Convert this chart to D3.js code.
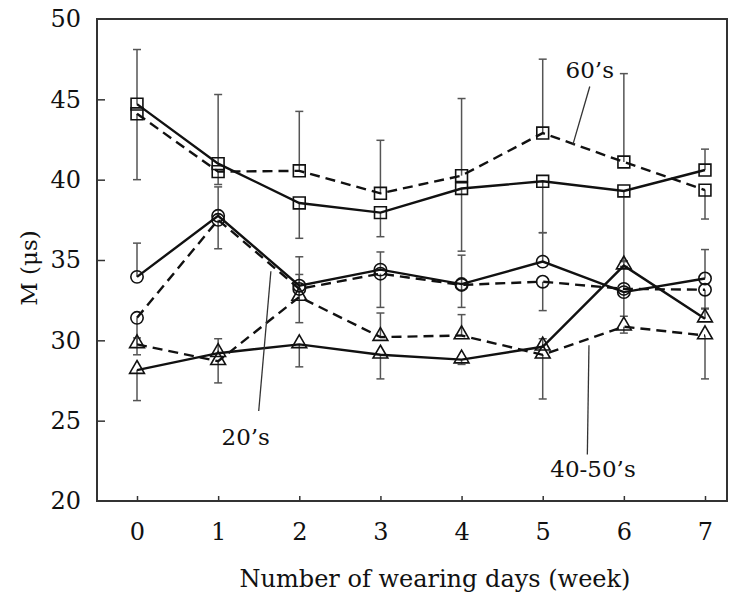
<!DOCTYPE html>
<html>
<head>
<meta charset="utf-8">
<script src="https://cdn.jsdelivr.net/npm/d3@7"></script>
<style>
  body { margin: 0; background: #fff; }
  svg text { font-family: "DejaVu Serif", serif; fill: #111; }
</style>
</head>
<body>
<div class="chart"></div>
<script>
const weeks = [0, 1, 2, 3, 4, 5, 6, 7]
const yTicks = [20, 25, 30, 35, 40, 45, 50]

// mean values, solid and dashed line for each age group
const m20Solid = [33.95, 37.75, 33.4, 34.4, 33.5, 34.9, 33.0, 33.85]
const m20Dashed = [31.4, 37.5, 33.2, 34.15, 33.45, 33.65, 33.2, 33.15]
const m4050Solid = [28.15, 29.2, 29.75, 29.1, 28.8, 29.6, 34.65, 31.35]
const m4050Dashed = [29.75, 28.7, 32.7, 30.2, 30.3, 29.1, 30.85, 30.3]
const m60Solid = [44.7, 41.0, 38.55, 37.95, 39.45, 39.9, 39.3, 40.6]
const m60Dashed = [44.1, 40.5, 40.55, 39.15, 40.25, 42.9, 41.1, 39.35]

// error bar lengths
const sd20Solid = [2.1, 1.8, 1.8, 1.1, 1.8, 1.8, 1.5, 1.8]
const sd20Dashed = [2.3, 1.8, 2.1, 2.1, 1.4, 1.8, 1.4, 1.15]
const sd4050Solid = [1.9, 0.9, 1.4, 1.5, 0.3, 0.5, 0.3, 0.6]
const sd4050Dashed = [0.4, 1.35, 1.4, 1.5, 1.3, 2.75, 0.4, 2.7]
const sd60Solid = [3.4, 4.3, 2.2, 1.5, 3.9, 3.2, 4.4, 1.3]
const sd60Dashed = [4.1, 0.8, 3.7, 3.3, 4.8, 4.6, 5.5, 1.8]

const groups = [
	{ name: "20's", marker: "circle", solid: m20Solid, dashed: m20Dashed, sdSolid: sd20Solid, sdDashed: sd20Dashed },
	{ name: "40-50's", marker: "triangle", solid: m4050Solid, dashed: m4050Dashed, sdSolid: sd4050Solid, sdDashed: sd4050Dashed },
	{ name: "60's", marker: "square", solid: m60Solid, dashed: m60Dashed, sdSolid: sd60Solid, sdDashed: sd60Dashed }
]

// annotation labels with leader lines (data units)
const labels = [
	{ text: "60\u2019s", x: 5.58, y: 46.8, line: [[5.58, 45.8], [5.37, 42.15]] },
	{ text: "20\u2019s", x: 1.34, y: 24.0, line: [[1.65, 34.3], [1.5, 25.6]] },
	{ text: "40-50\u2019s", x: 5.62, y: 22.0, line: [[5.57, 29.7], [5.55, 22.9]] }
]

const width = 736
const height = 599
const plotLeft = 97, plotRight = 727, plotTop = 19, plotBottom = 501

const svg = d3.select('.chart').append("svg")
	.attr("width", width)
	.attr("height", height)

const xScale = d3.scaleLinear()
	.domain([0, 7])
	.range([137, 705])

const yScale = d3.scaleLinear()
	.domain([20, 50])
	.range([plotBottom, plotTop])

// frame
svg.append("rect")
	.attr("x", plotLeft)
	.attr("y", plotTop)
	.attr("width", plotRight - plotLeft)
	.attr("height", plotBottom - plotTop)
	.attr("fill", "none")
	.attr("stroke", "#333")
	.attr("stroke-width", 2)

// ticks point inward
const yAxis = d3.axisLeft(yScale).tickValues(yTicks).tickFormat(d3.format("d")).tickSize(-8).tickPadding(12)
const xAxis = d3.axisBottom(xScale).tickValues(weeks).tickFormat(d3.format("d")).tickSize(-5).tickPadding(22)

const yG = svg.append("g")
	.attr("transform", "translate(" + plotLeft + ",0)")
	.call(yAxis)
const xG = svg.append("g")
	.attr("transform", "translate(0," + plotBottom + ")")
	.call(xAxis)

for (const g of [xG, yG]) {
	g.select(".domain").remove()
	g.selectAll(".tick line").attr("stroke", "#333").attr("stroke-width", 1.5)
	g.selectAll(".tick text")
		.style("font-family", "DejaVu Serif")
		.attr("font-size", 24)
		.attr("fill", "#111")
}
yG.selectAll(".tick line").filter(d => d === 20 || d === 50).remove()
yG.selectAll(".tick text").attr("dx", -4)

svg.append("text")
	.attr("x", 435)
	.attr("y", 587)
	.attr("text-anchor", "middle")
	.attr("font-size", 24)
	.text("Number of wearing days (week)")

svg.append("text")
	.attr("transform", "translate(37,268) rotate(-90)")
	.attr("text-anchor", "middle")
	.attr("font-size", 23)
	.text("M (\u03bcs)")

// error bars: the higher of each pair goes up, the lower goes down
const bars = []
groups.forEach(g => {
	weeks.forEach((w, i) => {
		const up = g.solid[i] >= g.dashed[i]
		bars.push({ x: w, y: g.solid[i], end: g.solid[i] + (up ? 1 : -1) * g.sdSolid[i] })
		bars.push({ x: w, y: g.dashed[i], end: g.dashed[i] + (up ? -1 : 1) * g.sdDashed[i] })
	})
})

const errG = svg.append("g")
	.attr("stroke", "#555")
	.attr("stroke-width", 1.5)

errG.selectAll("line.stem")
	.data(bars)
	.enter().append("line")
	.attr("class", "stem")
	.attr("x1", d => xScale(d.x))
	.attr("x2", d => xScale(d.x))
	.attr("y1", d => yScale(d.y))
	.attr("y2", d => yScale(d.end))

errG.selectAll("line.cap")
	.data(bars)
	.enter().append("line")
	.attr("class", "cap")
	.attr("x1", d => xScale(d.x) - 4)
	.attr("x2", d => xScale(d.x) + 4)
	.attr("y1", d => yScale(d.end))
	.attr("y2", d => yScale(d.end))

const line = d3.line()
	.x((d, i) => xScale(weeks[i]))
	.y(d => yScale(d))

groups.forEach(g => {
	svg.append("path")
		.attr("d", line(g.dashed))
		.attr("fill", "none")
		.attr("stroke", "#111")
		.attr("stroke-width", 2.4)
		.attr("stroke-dasharray", "10,6")

	svg.append("path")
		.attr("d", line(g.solid))
		.attr("fill", "none")
		.attr("stroke", "#111")
		.attr("stroke-width", 2.4)
})

const symbols = {
	circle: d3.symbol().type(d3.symbolCircle).size(120),
	square: d3.symbol().type(d3.symbolSquare).size(140),
	triangle: d3.symbol().type(d3.symbolTriangle).size(95)
}

groups.forEach(g => {
	for (const series of [g.solid, g.dashed]) {
		svg.append("g").selectAll("path")
			.data(series)
			.enter().append("path")
			.attr("d", symbols[g.marker])
			.attr("transform", (d, i) => "translate(" + xScale(weeks[i]) + "," + (yScale(d) + (g.marker === "triangle" ? -1 : 0)) + ")")
			.attr("fill", "none")
			.attr("stroke", "#111")
			.attr("stroke-width", 1.6)
	}
})

// labels
labels.forEach(l => {
	svg.append("line")
		.attr("x1", xScale(l.line[0][0]))
		.attr("y1", yScale(l.line[0][1]))
		.attr("x2", xScale(l.line[1][0]))
		.attr("y2", yScale(l.line[1][1]))
		.attr("stroke", "#333")
		.attr("stroke-width", 1.3)

	svg.append("text")
		.attr("x", xScale(l.x))
		.attr("y", yScale(l.y))
		.attr("dy", "0.35em")
		.attr("text-anchor", "middle")
		.attr("font-size", 23)
		.text(l.text)
})
</script>
</body>
</html>
